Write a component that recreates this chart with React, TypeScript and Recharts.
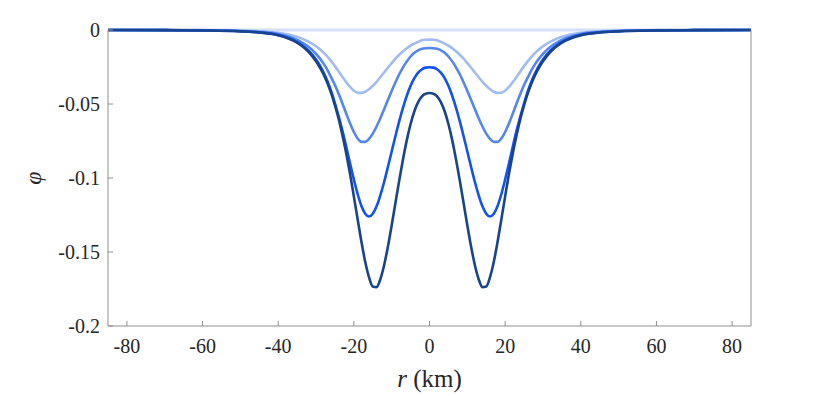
import { LineChart, Line, XAxis, YAxis } from "recharts"

// half profile, r >= 0 (km); the plot is mirrored about r = 0
const radiusKm = [
  0, 1, 2, 3, 4, 5, 6, 7, 8, 9, 10, 11, 12, 13, 14, 15, 16, 17, 18, 19, 20,
  21, 22, 23, 24, 25, 26, 27, 28, 29, 30, 32, 34, 36, 38, 40, 45, 50, 60, 70, 85,
]

const phiInitial = [
  0, 0, 0, 0, 0, 0, 0, 0, 0, 0, 0, 0, 0, 0, 0, 0, 0, 0, 0, 0, 0,
  0, 0, 0, 0, 0, 0, 0, 0, 0, 0, 0, 0, 0, 0, 0, 0, 0, 0, 0, 0,
]

const phiFirst = [
  -0.0065, -0.0066, -0.007, -0.008, -0.0092, -0.0106, -0.0123, -0.0144, -0.0167, -0.0194, -0.0224,
  -0.0255, -0.0287, -0.0319, -0.035, -0.0377, -0.04, -0.0417, -0.0425, -0.0424, -0.041,
  -0.0385, -0.0353, -0.0317, -0.028, -0.0244, -0.021, -0.018, -0.0153, -0.013, -0.011,
  -0.0078, -0.0055, -0.0039, -0.0027, -0.0019, -0.0008, -0.0004, -0.0001, 0, 0,
]

const phiEarly = [
  -0.0122, -0.0123, -0.0127, -0.0137, -0.0154, -0.0179, -0.0212, -0.0252, -0.0299, -0.0353, -0.0412,
  -0.0473, -0.0536, -0.0596, -0.0652, -0.07, -0.0736, -0.0756, -0.0756, -0.0733, -0.0689,
  -0.0632, -0.0566, -0.0498, -0.0433, -0.0372, -0.032, -0.027, -0.0227, -0.0192, -0.0161,
  -0.0113, -0.008, -0.0056, -0.0039, -0.0027, -0.0013, -0.0007, -0.0002, -0.0001, 0,
]

const phiMid = [
  -0.0252, -0.0254, -0.0265, -0.0288, -0.0325, -0.0377, -0.0444, -0.0524, -0.0616, -0.0716, -0.0821,
  -0.0926, -0.1027, -0.1117, -0.1191, -0.1241, -0.126, -0.1241, -0.1189, -0.1108, -0.101,
  -0.0903, -0.079, -0.0683, -0.0585, -0.0495, -0.0414, -0.0345, -0.0287, -0.0239, -0.0199,
  -0.0138, -0.0096, -0.0067, -0.0047, -0.0033, -0.0016, -0.0008, -0.0003, -0.0001, 0,
]

const phiLate = [
  -0.0426, -0.043, -0.0448, -0.0487, -0.0549, -0.0635, -0.0744, -0.0873, -0.1016, -0.1167, -0.132,
  -0.1464, -0.1589, -0.1684, -0.1737, -0.1733, -0.167, -0.1566, -0.1431, -0.1279, -0.1124,
  -0.0973, -0.0836, -0.0713, -0.0602, -0.0509, -0.0427, -0.0358, -0.03, -0.0252, -0.0211,
  -0.0147, -0.0103, -0.0072, -0.005, -0.0036, -0.0017, -0.0009, -0.0003, -0.0001, 0,
]

const xTicks = [-80, -60, -40, -20, 0, 20, 40, 60, 80]
const yTicks = [-0.2, -0.15, -0.1, -0.05, 0]

const series = [
  { key: "p0", values: phiInitial, color: "#d4e0f8", width: 3 },
  { key: "p1", values: phiFirst, color: "#a2bbf1", width: 2.6 },
  { key: "p2", values: phiEarly, color: "#5586ef", width: 2.6 },
  { key: "p3", values: phiMid, color: "#1452f0", width: 2.6 },
  { key: "p4", values: phiLate, color: "#18438e", width: 2.6 },
]

const rows: Record<string, number>[] = []
for (let i = radiusKm.length - 1; i > 0; i--) {
  const row: Record<string, number> = { r: -radiusKm[i] }
  series.forEach((s) => (row[s.key] = s.values[i]))
  rows.push(row)
}
for (let i = 0; i < radiusKm.length; i++) {
  const row: Record<string, number> = { r: radiusKm[i] }
  series.forEach((s) => (row[s.key] = s.values[i]))
  rows.push(row)
}

const axisColor = "#8f8f8f"
const tickStyle = { fontSize: 20, fill: "#262626" }

export default function App() {
  return (
    <div style={{ width: 814, height: 388, fontFamily: '"Liberation Serif", "DejaVu Serif", serif' }}>
      <LineChart width={814} height={388} data={rows} margin={{ top: 0, right: 0, bottom: 0, left: 0 }}>
        <XAxis
          xAxisId="b"
          dataKey="r"
          type="number"
          domain={[-85, 85]}
          ticks={xTicks}
          height={70}
          tickSize={-5}
          tickMargin={18}
          tick={tickStyle}
          stroke={axisColor}
          label={{
            content: () => (
              <text x={421.5} y={379} textAnchor="middle" fontSize={25} fill="#262626">
                <tspan fontStyle="italic">r</tspan>
                <tspan>{"  (km)"}</tspan>
              </text>
            ),
          }}
        />
        <XAxis
          xAxisId="t"
          orientation="top"
          dataKey="r"
          type="number"
          domain={[-85, 85]}
          ticks={xTicks}
          height={22}
          tickSize={-5}
          tick={false}
          axisLine={false}
          stroke={axisColor}
        />
        <YAxis
          yAxisId="l"
          type="number"
          domain={[-0.2, 0]}
          ticks={yTicks}
          width={100}
          tickSize={-5}
          tickMargin={13}
          tick={tickStyle}
          stroke={axisColor}
          label={{
            content: () => (
              <text
                x={27}
                y={170}
                textAnchor="middle"
                dominantBaseline="middle"
                fontSize={24}
                fontStyle="italic"
                fill="#262626"
                transform="rotate(-90, 27, 170)"
              >
                φ
              </text>
            ),
          }}
        />
        <YAxis
          yAxisId="r"
          orientation="right"
          type="number"
          domain={[-0.2, 0]}
          ticks={yTicks}
          width={71}
          tickSize={-5}
          tick={false}
          stroke={axisColor}
        />
        {series.map((s) => (
          <Line
            key={s.key}
            xAxisId="b"
            yAxisId="l"
            dataKey={s.key}
            type="monotone"
            stroke={s.color}
            strokeWidth={s.width}
            dot={false}
            activeDot={false}
            isAnimationActive={false}
          />
        ))}
      </LineChart>
    </div>
  )
}
